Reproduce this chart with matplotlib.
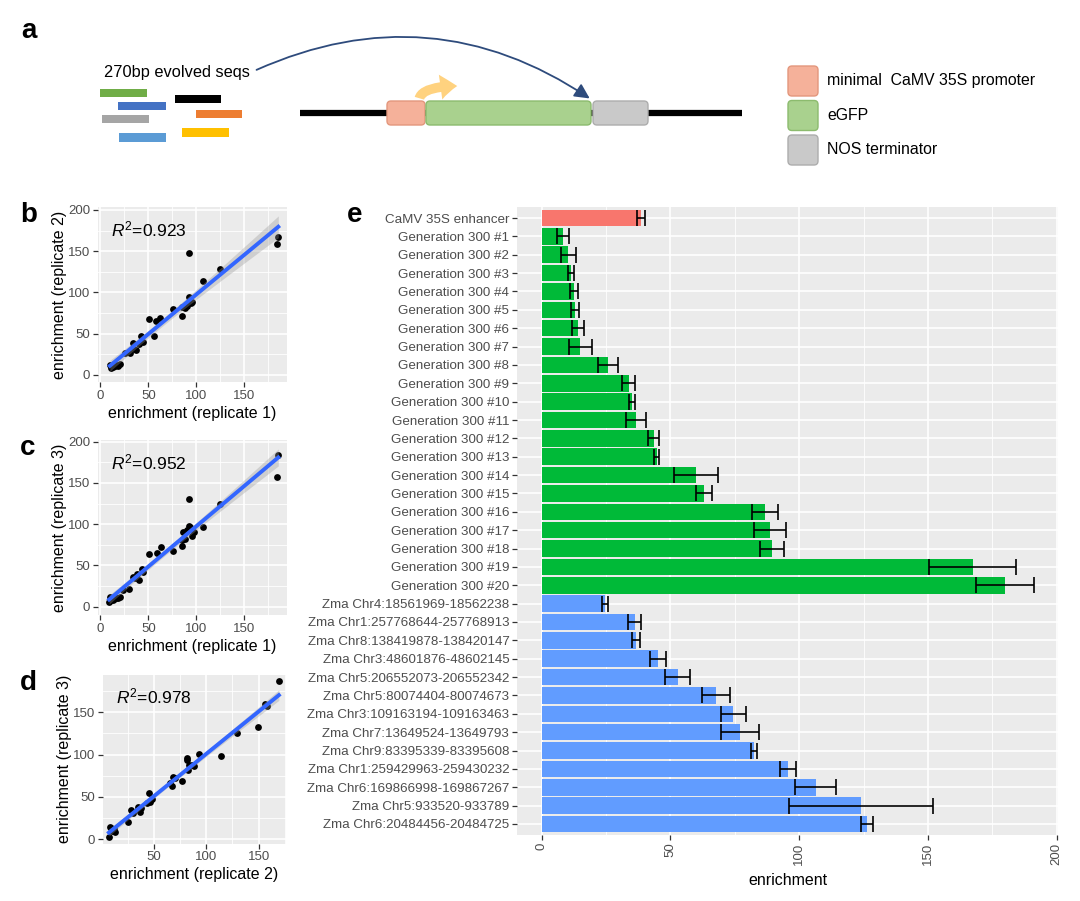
import numpy as np
import matplotlib
matplotlib.use("Agg")
import matplotlib.pyplot as plt
from matplotlib.patches import FancyBboxPatch, FancyArrowPatch, Rectangle

plt.rcParams["font.family"] = ["Liberation Sans", "DejaVu Sans"]
plt.rcParams["mathtext.fontset"] = "custom"
plt.rcParams["mathtext.rm"] = "Liberation Sans"
plt.rcParams["mathtext.it"] = "Liberation Sans:italic"

W, H = 1080, 901
PANEL = "#EBEBEB"; TICK = "#4D4D4D"; DARK = "#333333"
RED = "#F8766D"; GREEN = "#00BA38"; BLUE = "#619CFF"
LINE = "#3366FF"

# ---------- e: enrichment per 270bp sequence (mean, sd over replicates) ----------
seq_names = ["CaMV 35S enhancer"] + [f"Generation 300 #{i}" for i in range(1, 21)] + [
    "Zma Chr4:18561969-18562238", "Zma Chr1:257768644-257768913",
    "Zma Chr8:138419878-138420147", "Zma Chr3:48601876-48602145",
    "Zma Chr5:206552073-206552342", "Zma Chr5:80074404-80074673",
    "Zma Chr3:109163194-109163463", "Zma Chr7:13649524-13649793",
    "Zma Chr9:83395339-83395608", "Zma Chr1:259429963-259430232",
    "Zma Chr6:169866998-169867267", "Zma Chr5:933520-933789",
    "Zma Chr6:20484456-20484725"]
seq_group = ["control"] + ["evolved"] * 20 + ["maize"] * 13
enrich_mean = [38.5,
               8.2, 10.4, 11.3, 12.6, 13.1, 14.0, 15.1, 25.8, 33.8, 35.1,
               36.7, 43.5, 44.7, 60.0, 62.9, 86.7, 88.7, 89.5, 167.4, 179.9,
               24.5, 36.1, 36.7, 45.1, 52.8, 67.8, 74.5, 77.2, 82.5, 95.7,
               106.4, 124.0, 126.4]
enrich_sd = [1.5,
             2.3, 2.8, 1.1, 1.7, 1.6, 2.3, 4.4, 3.9, 2.6, 1.3,
             3.8, 2.1, 0.9, 8.6, 3.1, 4.9, 6.3, 4.7, 16.8, 11.1,
             1.1, 2.5, 1.7, 3.1, 4.7, 5.4, 4.7, 7.4, 1.3, 3.1,
             8.0, 27.8, 2.4]
group_colors = {"control": RED, "evolved": GREEN, "maize": BLUE}

# ---------- b-d: replicate agreement ----------
b_rep1 = [9.8, 11.0, 12.0, 13.3, 14.0, 15.0, 16.7, 18.0, 20.9, 25.5, 30.7, 33.5,
          35.0, 37.0, 40.5, 41.9, 44.0, 50.9, 55.8, 57.6, 62.0, 75.3, 84.8, 84.8,
          88.6, 90.0, 92.8, 92.8, 94.2, 96.0, 107.4, 124.9, 184.2, 185.9]
b_rep2 = [12.1, 9.0, 10.5, 10.1, 13.0, 11.0, 12.1, 11.0, 13.3, 26.3, 27.0, 38.4,
          32.0, 30.3, 37.6, 47.3, 40.0, 67.9, 47.7, 65.4, 69.5, 79.6, 82.8, 71.9,
          80.8, 84.0, 94.9, 148.3, 86.9, 88.0, 114.3, 128.5, 158.4, 167.7]
b_r2 = 0.923

c_rep1 = [9.0, 9.8, 11.0, 12.6, 14.0, 16.7, 18.0, 20.0, 24.0, 30.0, 33.5, 36.0,
          38.4, 40.5, 42.9, 44.0, 51.0, 58.6, 62.8, 76.0, 84.8, 84.8, 86.5, 88.0,
          90.0, 92.4, 92.8, 94.0, 95.2, 98.0, 107.4, 124.9, 185.9, 184.9]
c_rep3 = [5.3, 12.0, 8.0, 8.0, 9.0, 10.0, 11.0, 12.0, 20.0, 21.0, 36.4, 35.0,
          39.6, 32.3, 45.0, 42.0, 63.4, 64.6, 71.9, 67.5, 80.8, 73.5, 90.9, 82.0,
          92.9, 97.8, 130.0, 96.0, 85.6, 90.0, 96.2, 124.4, 183.8, 156.8]
c_r2 = 0.952

d_rep2 = [7.2, 7.8, 9.4, 10.0, 12.0, 13.0, 25.4, 28.6, 30.0, 35.0, 36.6, 38.0,
          43.6, 45.5, 46.2, 48.0, 65.3, 66.9, 68.5, 70.0, 76.5, 81.3, 81.9, 82.9,
          84.0, 86.1, 88.0, 93.5, 113.9, 129.2, 149.0, 156.0, 158.0, 169.2]
d_rep3 = [3.1, 15.0, 13.0, 10.0, 12.0, 9.0, 20.0, 34.6, 31.0, 38.6, 32.7, 37.0,
          42.5, 54.3, 44.5, 47.0, 66.1, 63.0, 74.0, 72.0, 69.3, 93.7, 96.5, 81.9,
          88.0, 87.8, 86.0, 100.4, 98.4, 125.2, 133.0, 160.0, 157.0, 187.4]
d_r2 = 0.978


def px_rect(l, t, r, b):
    return [l / W, 1 - b / H, (r - l) / W, (b - t) / H]


def fit_band(x, y):
    x = np.asarray(x, float); y = np.asarray(y, float)
    k, c = np.polyfit(x, y, 1)
    xs = np.linspace(x.min(), x.max(), 100)
    n = len(x)
    s = np.sqrt(((y - (k * x + c)) ** 2).sum() / (n - 2))
    se = s * np.sqrt(1 / n + (xs - x.mean()) ** 2 / ((x - x.mean()) ** 2).sum())
    return xs, k * xs + c, 2.04 * se


def gg_style(ax):
    ax.set_facecolor(PANEL)
    ax.set_axisbelow(True)
    for sp in ax.spines.values():
        sp.set_visible(False)
    ax.grid(which="major", color="white", lw=1.2)
    ax.grid(which="minor", color="white", lw=0.6)
    ax.tick_params(which="major", length=3.5, width=0.9, color=DARK,
                   labelcolor=TICK, pad=2)
    ax.tick_params(which="minor", length=0)


fig = plt.figure(figsize=(W / 100, H / 100), dpi=100)

# ---------- overlay: panel a schematic + panel letters ----------
ov = fig.add_axes([0, 0, 1, 1])
ov.set_xlim(0, W); ov.set_ylim(H, 0); ov.axis("off")

for lab, x, y in [("a", 21, 38), ("b", 20, 222), ("c", 20, 455), ("d", 20, 690), ("e", 347, 222)]:
    ov.text(x, y, lab, fontsize=20, fontweight="bold", va="baseline", ha="left")

ov.text(104, 73, "270bp evolved seqs", fontsize=11.8, va="center", ha="left")
frags = [(100, 89, 147, 97, "#70AD47"), (118, 102, 166, 110, "#4472C4"),
         (175, 95, 221, 103, "#000000"), (102, 115, 149, 123, "#A5A5A5"),
         (196, 110, 242, 118, "#ED7D31"), (119, 133, 166, 142, "#5B9BD5"),
         (182, 128, 229, 137, "#FFC000")]
for l, t, r, b, col in frags:
    ov.add_patch(Rectangle((l, t), r - l, b - t, color=col, lw=0))

ov.plot([300, 742], [113, 113], color="black", lw=4.5, solid_capstyle="butt", zorder=1)
boxes = [(387, 425, "#F5B19A", "#E3977D"), (426, 591, "#A9D18E", "#8CBB6E"),
         (593, 648, "#C9C9C9", "#ADADAD")]
for l, r, fc, ec in boxes:
    ov.add_patch(FancyBboxPatch((l, 101), r - l, 24, boxstyle="round,pad=0,rounding_size=4",
                                fc=fc, ec=ec, lw=1, zorder=2))
ov.add_patch(FancyArrowPatch((419, 101), (460, 86), connectionstyle="angle3,angleA=90,angleB=0",
                             arrowstyle="simple,head_length=0.6,head_width=0.9,tail_width=0.35",
                             mutation_scale=20, color="#FFD27F", lw=0, zorder=3))
ov.add_patch(FancyArrowPatch((254, 71), (592, 100), connectionstyle="arc3,rad=-0.28",
                             arrowstyle="-|>,head_length=0.5,head_width=0.25",
                             mutation_scale=18, color="#2E4B7C", lw=1.3, zorder=3))

legend_items = [("minimal  CaMV 35S promoter", "#F5B19A", "#E3977D"),
                ("eGFP", "#A9D18E", "#8CBB6E"),
                ("NOS terminator", "#C9C9C9", "#ADADAD")]
for i, (txt, fc, ec) in enumerate(legend_items):
    top = 66 + i * 34.5
    ov.add_patch(FancyBboxPatch((788, top), 30, 30, boxstyle="round,pad=0,rounding_size=4",
                                fc=fc, ec=ec, lw=1))
    ov.text(827, top + 15, txt, fontsize=11.4, va="center", ha="left")

# ---------- b, c, d ----------
scatters = [
    ((98, 207, 287, 382), b_rep1, b_rep2, b_r2, (-2.6, 195), (-8.5, 203.6),
     [0, 50, 100, 150], [0, 50, 100, 150, 200],
     "enrichment (replicate 1)", "enrichment (replicate 2)"),
    ((98, 440, 287, 615), c_rep1, c_rep3, c_r2, (-2.6, 195), (-10.2, 202),
     [0, 50, 100, 150], [0, 50, 100, 150, 200],
     "enrichment (replicate 1)", "enrichment (replicate 3)"),
    ((103, 675, 286, 843.5), d_rep2, d_rep3, d_r2, (1.6, 176), (-5, 194),
     [50, 100, 150], [0, 50, 100, 150],
     "enrichment (replicate 2)", "enrichment (replicate 3)"),
]
for rect, xv, yv, r2, xl, yl, xt, yt, xlab, ylab in scatters:
    ax = fig.add_axes(px_rect(*rect))
    gg_style(ax)
    ax.set_xlim(*xl); ax.set_ylim(*yl)
    ax.set_xticks(xt); ax.set_yticks(yt)
    ax.set_xticks([25, 75, 125, 175], minor=True)
    ax.set_yticks([25, 75, 125, 175], minor=True)
    ax.tick_params(labelsize=9.5)
    ax.scatter(xv, yv, s=24, color="black", lw=0, zorder=3)
    xs, ys, ci = fit_band(xv, yv)
    ax.fill_between(xs, ys - ci, ys + ci, color="#999999", alpha=0.35, lw=0, zorder=4)
    ax.plot(xs, ys, color=LINE, lw=2.8, zorder=5)
    ax.text(0.07, 0.87, rf"$R^2$=" + f"{r2:.3f}", transform=ax.transAxes,
            fontsize=12.5, va="center", ha="left")
    ax.set_xlabel(xlab, fontsize=11.5, labelpad=3)
    ax.set_ylabel(ylab, fontsize=11.5, labelpad=1)

# ---------- e ----------
ax = fig.add_axes(px_rect(517, 207, 1058, 835))
gg_style(ax)
ypos = np.arange(len(seq_names))
ax.barh(ypos, enrich_mean, height=0.9, color=[group_colors[g] for g in seq_group], zorder=2)
ax.errorbar(enrich_mean, ypos, xerr=enrich_sd, fmt="none", ecolor="black",
            elinewidth=1.2, capsize=6, capthick=1.2, zorder=3)
ax.set_xlim(-9.55, 200.5)
ax.set_ylim(len(seq_names) - 0.4, -0.6)
ax.set_yticks(ypos)
ax.set_yticklabels(seq_names)
ax.set_xticks([0, 50, 100, 150, 200])
ax.set_xticks([25, 75, 125, 175], minor=True)
ax.tick_params(axis="y", labelsize=9.6)
ax.tick_params(axis="x", labelsize=9.5, labelrotation=90)
ax.grid(which="minor", axis="y", visible=False)
ax.set_xlabel("enrichment", fontsize=11.5, labelpad=6)

fig.savefig("out.png", dpi=100)
